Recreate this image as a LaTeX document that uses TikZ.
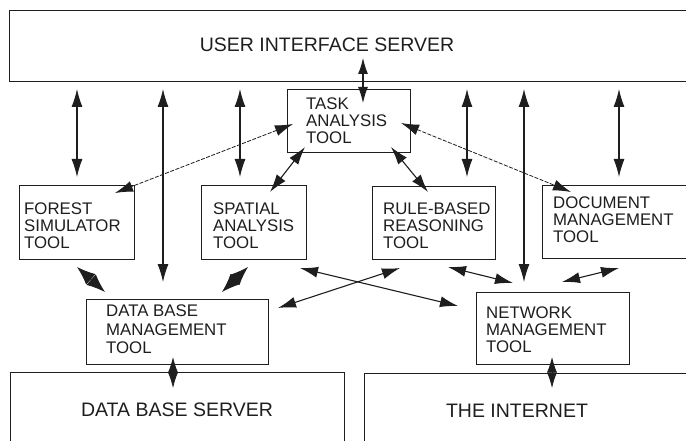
\documentclass[tikz,border=0pt]{standalone}
\usepackage{fontspec}
\setmainfont{Liberation Sans}
\usetikzlibrary{arrows.meta}
\begin{document}
\begin{tikzpicture}[x=1pt,y=-1pt,
  box/.style={draw=ink, line width=1.3pt, rectangle, inner sep=0pt, anchor=north west},
  lbl/.style={inner sep=0pt, anchor=north west, align=left, text=ink, font=\fontsize{16.8}{17}\selectfont},
  big/.style={inner sep=0pt, text=ink, font=\fontsize{19.5}{20}\selectfont},
  dbl/.style={draw=ink, line width=1.1pt, arrows={Latex[length=18pt,width=11pt]-Latex[length=18pt,width=11pt]}},
  dsh/.style={dbl, dash pattern=on 4pt off 1.5pt, line width=0.8pt},
  kite/.style={draw=ink, line width=0.8pt, arrows={Latex[length=18.5pt,width=14pt]-Latex[length=18.5pt,width=14pt]}},
  vkite/.style={draw=ink, line width=0.8pt, arrows={Latex[length=15.5pt,width=10pt]-Latex[length=15.5pt,width=10pt]}}]
\definecolor{ink}{HTML}{1E1E1E}
\clip (0,0) rectangle (686,441);
\fill[white] (0,0) rectangle (686,441);

% boxes
\node[box, minimum width=690pt, minimum height=71pt] (ui) at (9,10) {};
\node[box, minimum width=123pt, minimum height=63pt] (task) at (287,89) {};
\node[box, minimum width=115pt, minimum height=74pt] (forest) at (19,185) {};
\node[box, minimum width=105pt, minimum height=74pt] (spatial) at (201,185) {};
\node[box, minimum width=123pt, minimum height=73pt] (rule) at (372,186) {};
\node[box, minimum width=160pt, minimum height=73pt] (doc) at (542,185) {};
\node[box, minimum width=182pt, minimum height=65pt] (dbms) at (86,299) {};
\node[box, minimum width=153pt, minimum height=72pt] (nmt) at (476,292) {};
\node[box, minimum width=334pt, minimum height=80pt] (dbs) at (10,372) {};
\node[box, minimum width=340pt, minimum height=80pt] (inet) at (364,373) {};

% texts
\node[big] (uit) at (327,45) {USER INTERFACE SERVER};
\node[lbl] (taskt) at (306,98) {TASK\\ANALYSIS\\TOOL};
\node[lbl] (forestt) at (24,203) {FOREST\\SIMULATOR\\TOOL};
\node[lbl] (spatialt) at (213,203) {SPATIAL\\ANALYSIS\\TOOL};
\node[lbl] (rulet) at (383,203) {RULE-BASED\\REASONING\\TOOL};
\node[lbl] (doct) at (553,197) {DOCUMENT\\MANAGEMENT\\TOOL};
\node[lbl, font=\fontsize{16.8}{18.5}\selectfont] (dbmst) at (106,305) {DATA BASE\\MANAGEMENT\\TOOL};
\node[lbl] (nmtt) at (486,307) {NETWORK\\MANAGEMENT\\TOOL};
\node[big] (dbst) at (177,410) {DATA BASE SERVER};
\node[big] (inett) at (517,411) {THE INTERNET};

% connector end points
\coordinate (u1) at (77,89);   \coordinate (f1) at (77,177);
\coordinate (u2) at (163,89);  \coordinate (d1) at (163,282);
\coordinate (u3) at (240,89);  \coordinate (s1) at (240,177);
\coordinate (u4) at (467,89);  \coordinate (r1) at (467,177);
\coordinate (u5) at (524,89);  \coordinate (n1) at (524,282);
\coordinate (u6) at (619,89);  \coordinate (o1) at (619,177);
\coordinate (u7) at (363,58);  \coordinate (t1) at (363,103);
\coordinate (t2) at (293,124); \coordinate (f2) at (115,193);
\coordinate (t3) at (401,123); \coordinate (o2) at (571,192);
\coordinate (t4) at (305,147); \coordinate (s2) at (270,192);
\coordinate (t5) at (391,147); \coordinate (r2) at (428,192);
\coordinate (f3) at (77,267);  \coordinate (d2) at (105,292);
\coordinate (s3) at (248,267); \coordinate (d3) at (222,292);
\coordinate (s4) at (300,268); \coordinate (n2) at (458,306);
\coordinate (r3) at (400,268); \coordinate (d4) at (278,308);
\coordinate (r4) at (448,267); \coordinate (n3) at (513,283);
\coordinate (o3) at (619,268); \coordinate (n4) at (562,282);
\coordinate (d5) at (173,357); \coordinate (b1) at (173,388);
\coordinate (n5) at (552,357); \coordinate (i1) at (552,388);

% connectors
\draw[dbl] (u1) -- (f1);
\draw[dbl] (u2) -- (d1);
\draw[dbl] (u3) -- (s1);
\draw[dbl] (u4) -- (r1);
\draw[dbl] (u5) -- (n1);
\draw[dbl] (u6) -- (o1);
\draw[dbl, arrows={Latex[length=16pt,width=10pt]-Latex[length=16pt,width=10pt]}] (u7) -- (t1);
\draw[dsh] (t2) -- (f2);
\draw[dsh] (t3) -- (o2);
\draw[dbl] (t4) -- (s2);
\draw[dbl] (t5) -- (r2);
\draw[kite] (f3) -- (d2);
\draw[kite] (s3) -- (d3);
\draw[dbl] (s4) -- (n2);
\draw[dbl] (r3) -- (d4);
\draw[dbl] (r4) -- (n3);
\draw[dbl] (o3) -- (n4);
\draw[vkite] (d5) -- (b1);
\draw[vkite] (n5) -- (i1);
\end{tikzpicture}
\end{document}
